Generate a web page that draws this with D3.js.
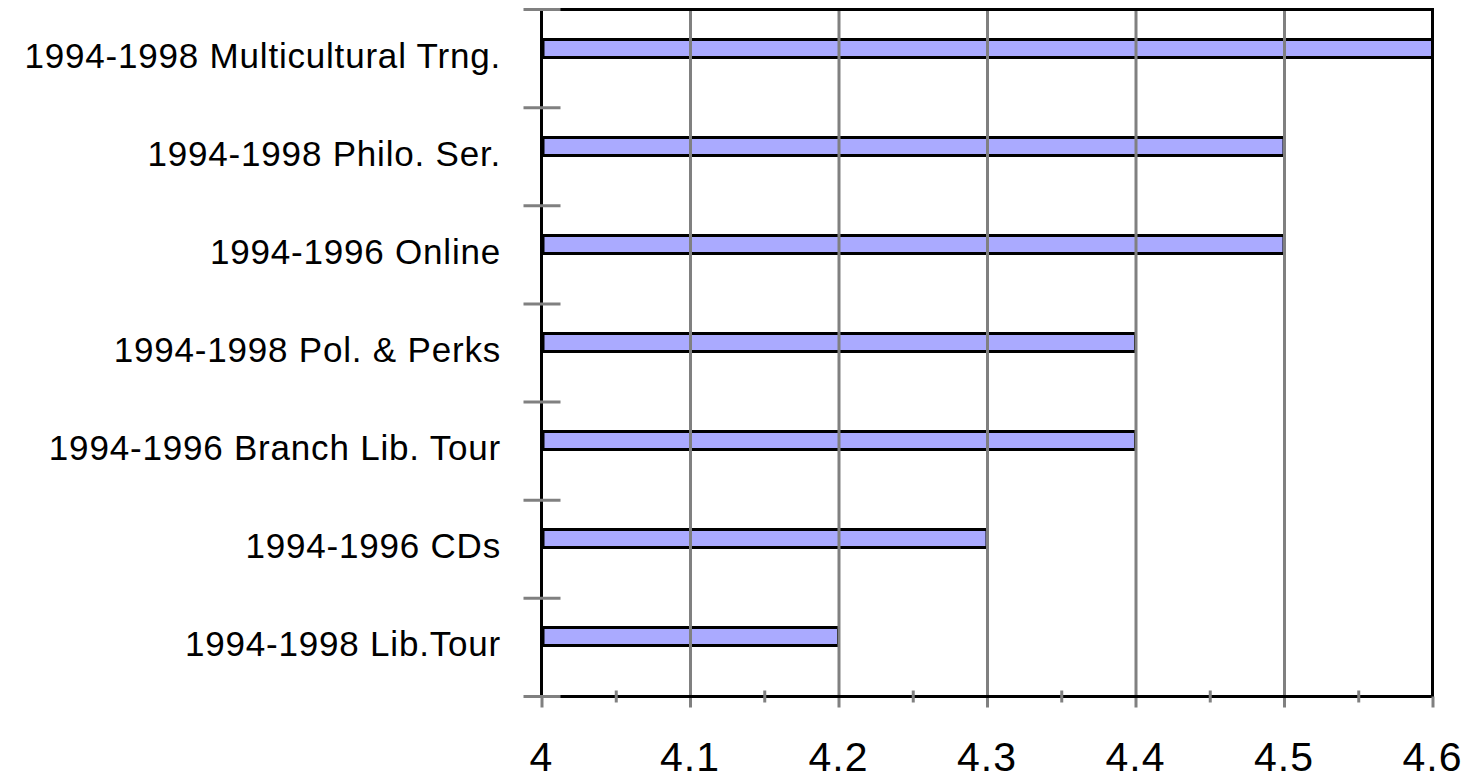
<!DOCTYPE html>
<html>
<head>
<meta charset="utf-8">
<script src="https://cdn.jsdelivr.net/npm/d3@7"></script>
<style>
  html, body { margin: 0; padding: 0; background: #fff; }
  svg { display: block; }
  text { font-family: "Liberation Sans", Arial, sans-serif; fill: #000; }
</style>
</head>
<body>
<svg id="chart" width="1467" height="781"></svg>
<script>
// Programme ratings, listed top to bottom
const categories = [
  "1994-1998 Multicultural Trng.",
  "1994-1998 Philo. Ser.",
  "1994-1996 Online",
  "1994-1998 Pol. & Perks",
  "1994-1996 Branch Lib. Tour",
  "1994-1996 CDs",
  "1994-1998 Lib.Tour"
];
const ratings = [4.6, 4.5, 4.5, 4.4, 4.4, 4.3, 4.2];
const majorTicks = [4, 4.1, 4.2, 4.3, 4.4, 4.5, 4.6];
const minorTicks = [4.05, 4.15, 4.25, 4.35, 4.45, 4.55];
// each category holds two bar slots; only the first one carries a value
const slots = ["rating", "empty"];

const svg = d3.select("#chart");
const plot = { left: 541.5, right: 1432.5, top: 9.5, bottom: 696.5 };
const GRAY = "#808080";

const x = d3.scaleLinear().domain([4, 4.6]).range([plot.left, plot.right]);
const y = d3.scaleBand().domain(categories).range([plot.top, plot.bottom]).padding(0);
const ySlot = d3.scaleBand().domain(slots).range([0, y.bandwidth()])
  .paddingInner(0).paddingOuter(1.34);

const data = categories.map((c, i) => ({ cat: c, v: ratings[i] }));

// bars
svg.append("g").selectAll("rect").data(data).join("rect")
  .attr("x", x(4) + 1.5)
  .attr("y", d => Math.round(y(d.cat) + ySlot("rating")) + 1.5)
  .attr("width", d => x(d.v) - x(4) - 1.5)
  .attr("height", 18)
  .attr("fill", "#aaaaff")
  .attr("stroke", "#000")
  .attr("stroke-width", 3);

// vertical gridlines, extending below the axis as major ticks
const grid = d3.axisBottom(x).tickValues(majorTicks.slice(1, -1))
  .tickSize(-(plot.bottom - plot.top) - 11).tickFormat("");
svg.append("g").attr("transform", `translate(0,${plot.bottom + 11})`).call(grid)
  .call(g => g.select(".domain").remove())
  .call(g => g.selectAll("line").attr("stroke", GRAY).attr("stroke-width", 3));

// frame
svg.append("rect")
  .attr("x", plot.left).attr("y", plot.top)
  .attr("width", plot.right - plot.left).attr("height", plot.bottom - plot.top)
  .attr("fill", "none").attr("stroke", "#000").attr("stroke-width", 3);

// major ticks at the two ends of the value axis
svg.append("g").attr("transform", `translate(0,${plot.bottom})`)
  .call(d3.axisBottom(x).tickValues([4, 4.6]).tickSize(11).tickFormat(""))
  .call(g => g.select(".domain").remove())
  .call(g => g.selectAll("line").attr("stroke", GRAY).attr("stroke-width", 3));

// minor ticks across the value axis
svg.append("g").attr("transform", `translate(0,${plot.bottom - 6})`)
  .call(d3.axisBottom(x).tickValues(minorTicks).tickSize(12).tickFormat(""))
  .call(g => g.select(".domain").remove())
  .call(g => g.selectAll("line").attr("stroke", GRAY).attr("stroke-width", 3));

// value tick labels
svg.append("g").selectAll("text").data(majorTicks).join("text")
  .attr("x", d => x(d))
  .attr("y", 771)
  .attr("text-anchor", "middle")
  .style("font-size", "41px")
  .style("letter-spacing", "1px")
  .text(d => d3.format("")(d));

// category separators crossing the left axis
const bounds = categories.map(c => y(c)).concat([plot.bottom]);
svg.append("g").selectAll("line").data(bounds).join("line")
  .attr("x1", plot.left - 18).attr("x2", plot.left + 19)
  .attr("y1", d => d).attr("y2", d => d)
  .attr("stroke", GRAY).attr("stroke-width", 3);

// category labels
svg.append("g").selectAll("text").data(categories).join("text")
  .attr("x", 501)
  .attr("y", d => y(d) + y.bandwidth() / 2 + 9)
  .attr("text-anchor", "end")
  .style("font-size", "35px")
  .style("letter-spacing", "0.8px")
  .text(d => d);
</script>
</body>
</html>
